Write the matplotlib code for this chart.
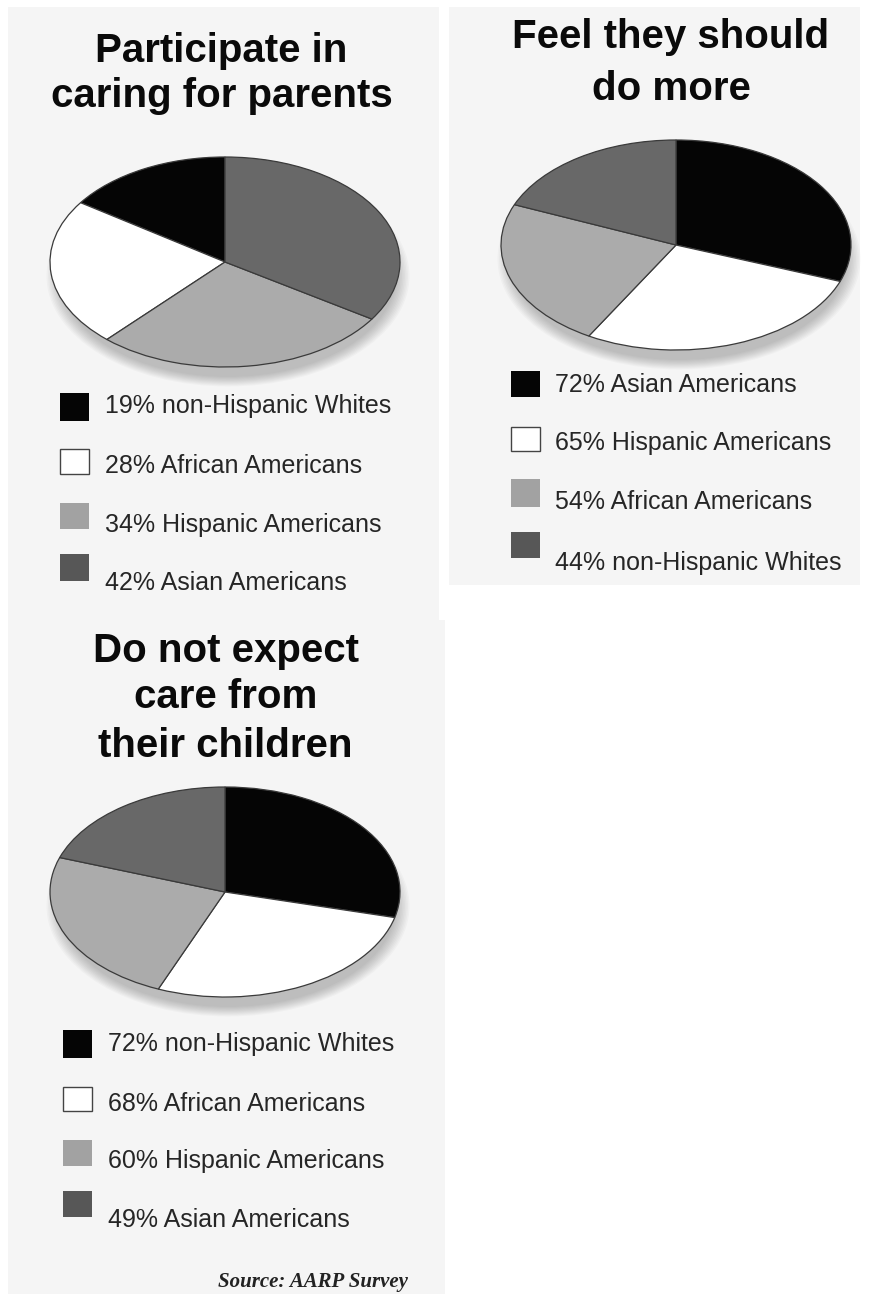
import matplotlib
matplotlib.use("Agg")
import matplotlib.pyplot as plt
from matplotlib.patches import Rectangle, Ellipse

# survey values (AARP)
care_labels = ["non-Hispanic Whites", "African Americans", "Hispanic Americans", "Asian Americans"]
care_values = [19, 28, 34, 42]

more_labels = ["Asian Americans", "Hispanic Americans", "African Americans", "non-Hispanic Whites"]
more_values = [72, 65, 54, 44]

expect_labels = ["non-Hispanic Whites", "African Americans", "Hispanic Americans", "Asian Americans"]
expect_values = [72, 68, 60, 49]

titles = [["Participate in", "caring for parents"],
          ["Feel they should", "do more"],
          ["Do not expect", "care from", "their children"]]

W, H = 872, 1294
fills = ["#050505", "#ffffff", "#ababab", "#686868"]
key_fills = ["#050505", "#ffffff", "#a2a2a2", "#575757"]
panel_bg = "#f5f5f5"
text_col = "#262626"

fig = plt.figure(figsize=(W / 100, H / 100), dpi=100)
fig.patch.set_facecolor("white")
bg = fig.add_axes([0, 0, 1, 1])
bg.set_xlim(0, W)
bg.set_ylim(H, 0)
bg.axis("off")

# panel backgrounds
for x0, y0, x1, y1 in [(8, 7, 439, 620), (449, 7, 860, 585), (8, 620, 445, 1294)]:
    bg.add_patch(Rectangle((x0, y0), x1 - x0, y1 - y0, facecolor=panel_bg, edgecolor="none"))


def draw_panel(values, labels, counterclock, center, title_lines, title_y, title_x, title_size,
               key_x, key_tops, key_bottoms, text_x, text_y):
    cx, cy = center
    a, b = 175, 105
    # soft shadow, mostly below the pie
    for k in range(0, 30, 3):
        bg.add_patch(Ellipse((cx + 3, cy + 14), 2 * a - 14 + k, 2 * b - 8 + k * 0.7,
                             facecolor="black", edgecolor="none", alpha=0.022))
    ax = fig.add_axes([(cx - a) / W, 1 - (cy + b) / H, 2 * a / W, 2 * b / H])
    wedges, _ = ax.pie(values, colors=fills, startangle=90, counterclock=counterclock,
                       wedgeprops=dict(edgecolor="#3a3a3a", linewidth=0.9))
    for w in wedges:
        w.set_clip_on(False)
    ax.set_aspect("auto")
    ax.set_xlim(-1, 1)
    ax.set_ylim(-1, 1)
    ax.axis("off")

    for line, y in zip(title_lines, title_y):
        bg.text(title_x, y, line, ha="center", va="baseline", fontsize=title_size,
                fontweight="bold", family="Liberation Sans", color="#0a0a0a")

    for i, (v, lab) in enumerate(zip(values, labels)):
        top, bot = key_tops[i], key_bottoms[i]
        bg.add_patch(Rectangle((key_x, top), 29, bot - top, facecolor=key_fills[i],
                               edgecolor="#444444" if i == 1 else "none", linewidth=1))
        bg.text(text_x, text_y[i], f"{v}% {lab}", ha="left", va="baseline", fontsize=18,
                family="Liberation Sans", color=text_col)


draw_panel(care_values, care_labels, True, (225, 262), titles[0], [62, 107], 221.5, 29,
           60, [393, 449, 503, 554], [421, 474, 529, 581], 105, [413, 473, 532, 590])
draw_panel(more_values, more_labels, False, (676, 245), titles[1], [48, 100], 671, 29,
           511, [371, 427, 479, 532], [397, 451, 507, 558], 555, [392, 450, 509, 570])
draw_panel(expect_values, expect_labels, False, (225, 892), titles[2], [662, 708, 757], 225.5, 29,
           63, [1030, 1087, 1140, 1191], [1058, 1111, 1166, 1217], 108, [1051, 1111, 1168, 1227])

bg.text(408, 1287, "Source: AARP Survey", ha="right", va="baseline", fontsize=15,
        fontweight="bold", fontstyle="italic", family="Liberation Serif", color="#222222")

fig.savefig("out.png", dpi=100, facecolor="white")
